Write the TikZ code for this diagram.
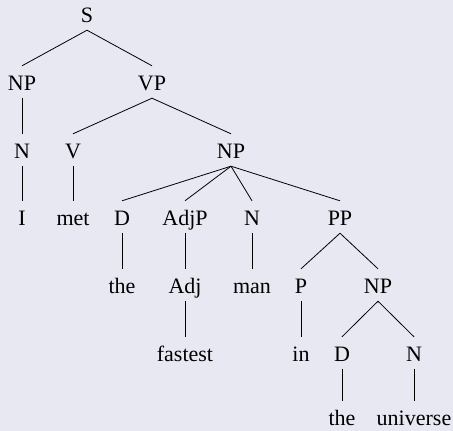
\documentclass[tikz,border=0pt]{standalone}
\usepackage{fontspec}
\setmainfont{Liberation Serif}
\newfontfamily\treefont{Liberation Serif}
\definecolor{bgc}{RGB}{232,232,242}
\begin{document}
\begin{tikzpicture}[x=1pt,y=1pt,
  lab/.style={inner sep=0pt, anchor=base, text height=24pt, text depth=8pt, font=\treefont\fontsize{22}{26}\selectfont},
  leaf/.style={lab, text depth=2pt},
  edge/.style={line width=0.8pt, black}]
\fill[bgc] (0,0) rectangle (453,-431);
\useasboundingbox (0,0) rectangle (453,-431);
% level 0
\node[lab] (S) at (87,-22) {S};
% level 1
\node[lab] (NPa) at (22,-90) {NP};
\node[lab] (VP) at (152,-90) {VP};
% level 2
\node[lab] (Na) at (22,-158) {N};
\node[lab] (V) at (73,-158) {V};
\node[lab] (NPb) at (231,-158) {NP};
% level 3
\node[leaf] (I) at (22,-225) {I};
\node[leaf] (met) at (73,-225) {met};
\node[lab] (Da) at (122,-225) {D};
\node[lab] (AdjP) at (185,-225) {AdjP};
\node[lab] (Nb) at (252,-225) {N};
\node[lab] (PP) at (340,-225) {PP};
% level 4
\node[leaf] (thea) at (122,-293) {the};
\node[lab] (Adj) at (185,-293) {Adj};
\node[leaf] (man) at (252,-293) {man};
\node[lab] (P) at (301,-293) {P};
\node[lab] (NPc) at (378,-293) {NP};
% level 5
\node[leaf] (fastest) at (185,-361) {fastest};
\node[leaf] (in) at (301,-361) {in};
\node[lab] (Db) at (342,-361) {D};
\node[lab] (Nc) at (414,-361) {N};
% level 6
\node[leaf] (theb) at (342,-425) {the};
\node[leaf] (universe) at (414,-425) {universe};
% edges
\draw[edge] (S.south) -- (NPa.north);
\draw[edge] (S.south) -- (VP.north);
\draw[edge] (NPa.south) -- (Na.north);
\draw[edge] (Na.south) -- (I.north);
\draw[edge] (VP.south) -- (V.north);
\draw[edge] (VP.south) -- (NPb.north);
\draw[edge] (V.south) -- (met.north);
\draw[edge] (NPb.south) -- (Da.north);
\draw[edge] (NPb.south) -- (AdjP.north);
\draw[edge] (NPb.south) -- (Nb.north);
\draw[edge] (NPb.south) -- (PP.north);
\draw[edge] (Da.south) -- (thea.north);
\draw[edge] (AdjP.south) -- (Adj.north);
\draw[edge] (Nb.south) -- (man.north);
\draw[edge] (PP.south) -- (P.north);
\draw[edge] (PP.south) -- (NPc.north);
\draw[edge] (Adj.south) -- (fastest.north);
\draw[edge] (P.south) -- (in.north);
\draw[edge] (NPc.south) -- (Db.north);
\draw[edge] (NPc.south) -- (Nc.north);
\draw[edge] (Db.south) -- (theb.north);
\draw[edge] (Nc.south) -- (universe.north);
\end{tikzpicture}
\end{document}
